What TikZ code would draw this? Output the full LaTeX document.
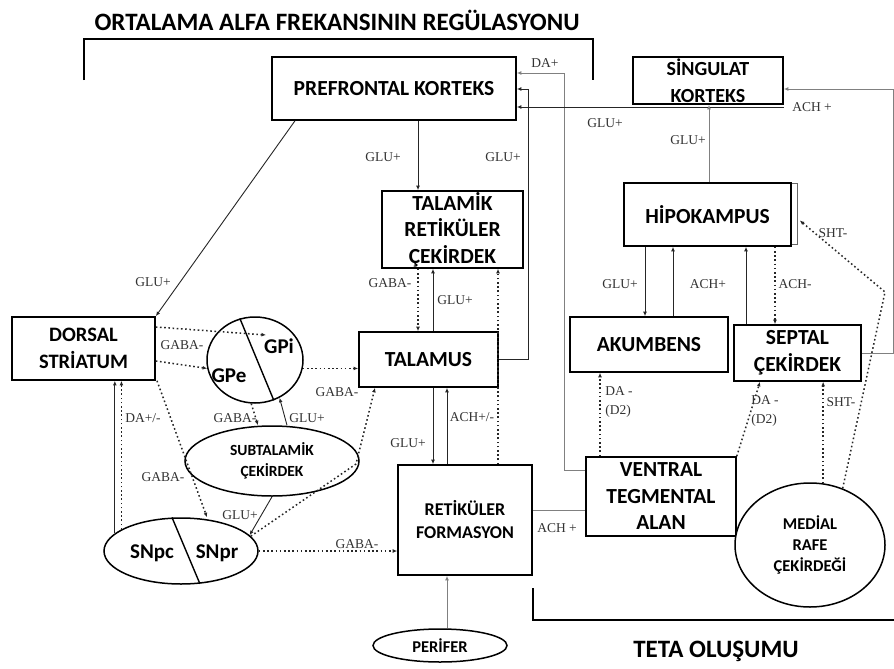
\documentclass[tikz,border=0pt]{standalone}
\usepackage{fontspec}
\setmainfont{Liberation Serif}
\newfontfamily\bxfam{Carlito}
\usetikzlibrary{arrows.meta,shapes.geometric}
\newcommand\boxfont{\bxfam\bfseries\fontsize{21.5}{26.5}\selectfont}
\newcommand\ovalfont{\bxfam\bfseries\fontsize{15.5}{21}\selectfont}
\newcommand\smallbox{\bxfam\bfseries\fontsize{16.5}{21}\selectfont}
\newcommand\partfont{\bxfam\bfseries\fontsize{21}{22}\selectfont}
\newcommand\labfont{\fontsize{13.5}{18.5}\selectfont}
\tikzset{
  box/.style={draw=black, line width=1.6pt, fill=white, font=\boxfont, align=center, inner sep=0pt},
  oval/.style={ellipse, draw=black, line width=1.5pt, fill=white, inner sep=0pt, align=center},
  sol/.style={draw=black!85, line width=0.9pt},
  gsol/.style={draw=black!50, line width=0.9pt},
  dotline/.style={draw=black!85, line width=1.5pt, dash pattern=on 1.6pt off 2.6pt},
  arr/.style={-{Latex[length=4.5pt,width=3.8pt]}},
  lab/.style={font=\labfont, text=black!80, inner sep=0pt, align=left},
  brk/.style={draw=black, line width=1.6pt},
  head/.style={font=\bxfam\bfseries\fontsize{25}{28}\selectfont, inner sep=0pt},
}
\begin{document}
\begin{tikzpicture}[x=1pt, y=-1pt]
\useasboundingbox (0,0) rectangle (894,669);
\fill[white] (0,0) rectangle (894,669);

% headings and brackets
\node[head] (alfa) at (337,20) {ORTALAMA ALFA FREKANSININ REGÜLASYONU};
\draw[brk] (84,80) -- (84,39) -- (593,39) -- (593,80);
\node[head] (teta) at (716,651) {TETA OLUŞUMU};
\draw[brk] (533,588) -- (533,620) -- (894,620);

% boxes
\node[box, minimum width=244, minimum height=63] (pfc) at (394,88.5) {PREFRONTAL KORTEKS};
\node[box, minimum width=150, minimum height=47, font=\bxfam\bfseries\fontsize{20}{27}\selectfont] (sing) at (708,80.5) {SİNGULAT\\KORTEKS};
\node[box, minimum width=141, minimum height=77] (trn) at (452.5,229.5) {TALAMİK\\RETİKÜLER\\ÇEKİRDEK};
\node[box, minimum width=139, minimum height=55] (tal) at (428.5,359.5) {TALAMUS};
\node[box, minimum width=134, minimum height=110, font=\bxfam\bfseries\fontsize{18}{23}\selectfont] (rf) at (465,520) {RETİKÜLER\\FORMASYON};
\node[box, minimum width=143, minimum height=63, font=\bxfam\bfseries\fontsize{20.5}{27}\selectfont] (ds) at (83.5,348.5) {DORSAL\\STRİATUM};
\node[box, minimum width=150, minimum height=79] (vta) at (661,496.5) {VENTRAL\\TEGMENTAL\\ALAN};
\node[box, minimum width=167, minimum height=63] (hip) at (707.5,214.5) {HİPOKAMPUS};
\node[box, minimum width=158, minimum height=55] (ak) at (649,344.5) {AKUMBENS};
\node[box, minimum width=127, minimum height=56] (sep) at (797.5,353) {SEPTAL\\ÇEKİRDEK};
\draw[black!60, line width=1pt] ([yshift=-1pt]hip.north east) -| ([xshift=6pt,yshift=2pt]hip.south east) -- ([yshift=2pt]hip.south east);

% ovals
\node[oval, minimum width=96, minimum height=86] (gp) at (255,360) {};
\draw[black, line width=1.4pt] (gp.110) -- (gp.-65);
\node[font=\partfont, inner sep=0pt] (gpe) at (229,376) {GPe};
\node[font=\partfont, inner sep=0pt] (gpi) at (279,346) {GPi};
\node[oval, minimum width=174, minimum height=70, font=\ovalfont] (stn) at (272,461) {SUBTALAMİK\\ÇEKİRDEK};
\node[oval, minimum width=154, minimum height=66] (sn) at (181,551) {};
\draw[black, line width=1.4pt] (sn.105) -- (sn.-60);
\node[font=\partfont, inner sep=0pt] (snpc) at (152,553) {SNpc};
\node[font=\partfont, inner sep=0pt] (snpr) at (217,553) {SNpr};
\node[oval, minimum width=134, minimum height=33, font=\smallbox] (per) at (440,645.5) {PERİFER};
\node[oval, minimum width=150, minimum height=124, font=\smallbox] (mrc) at (810,545) {MEDİAL\\RAFE\\ÇEKİRDEĞİ};

% bend points
\coordinate (b1) at (528,89);
\coordinate (b2) at (564,73);
\coordinate (b3) at (893,89);
\coordinate (b4) at (356,464);
\coordinate (b5) at (885,292);
\coordinate (gpin) at (266,335);

% prefrontal cortex links
\draw[sol,arr] (418,0 |- pfc.south) -- (418,0 |- trn.north);
\node[lab] (l1) at (383,157) {GLU+};
\draw[sol,arr] (295,0 |- pfc.south) -- (ds.north east);
\node[lab] (l2) at (153,282) {GLU+};
\draw[sol,arr] (tal.east) -| (b1) -- (pfc.east |- b1);
\node[lab] (l3) at (503,157) {GLU+};
\draw[gsol,arr] (vta.west |- 0,470) -| (b2) -- (pfc.east |- b2);
\node[lab] (l4) at (545,63) {DA+};
\draw[sol,arr] (sing.east |- 0,107) -- (pfc.east |- 0,107);
\node[lab] (l5) at (605,123) {GLU+};

% cingulate cortex links
\draw[gsol,arr] (709,0 |- hip.north) -- (709,0 |- sing.south);
\node[lab] (l6) at (688,140) {GLU+};
\draw[gsol,arr] (sep.east) -| (b3) -- (sing.east |- b3);
\node[lab] (l7) at (812,107) {ACH +};

% thalamic loops
\draw[dotline,arr] (418,0 |- trn.south) -- (418,0 |- tal.north);
\node[lab] (l8) at (390,283) {GABA-};
\draw[sol,arr] (433,0 |- tal.north) -- (433,0 |- trn.south);
\node[lab] (l9) at (455,300) {GLU+};
\draw[dotline,arr] (498,0 |- rf.north) -- (498,0 |- trn.south);
\node[lab] (l10) at (472,417) {ACH+/-};
\draw[sol,arr] (433,0 |- tal.south) -- (433,0 |- rf.north);
\node[lab] (l11) at (408,443) {GLU+};
\draw[sol,arr] (447,0 |- rf.north) -- (447,0 |- tal.south);

% basal ganglia
\draw[dotline,arr] (ds.east |- 0,327) -- (gpin);
\node[lab] (l12) at (182,345) {GABA-};
\draw[dotline,arr] (ds.east |- 0,361) -- (gp.190);
\draw[dotline,arr] (gp.-10) -- (tal.west |- gp.-10);
\draw[dotline,arr] (gp.265) -- (258,0 |- stn.north);
\node[lab] (l13) at (235,418) {GABA-};
\draw[sol,arr] (287,0 |- stn.north) -- (gp.-57);
\node[lab] (l14) at (307,418) {GLU+};
\draw[dotline,arr] (sn.12) -- (b4) -- (375,0 |- tal.south);
\node[lab] (l15) at (337,392) {GABA-};
\draw[dotline,arr] (157,0 |- ds.south) -- (207,0 |- sn.north);
\node[lab] (l16) at (163,477) {GABA-};
\draw[sol,arr] (sn.165) -- (sn.165 |- ds.south);
\draw[dotline,arr] (sn.160) -- (sn.160 |- ds.south);
\node[lab] (l17) at (143,418) {DA+/-};
\draw[sol,arr] (stn.south) -- (sn.13);
\node[lab] (l18) at (240,515) {GLU+};
\draw[dotline,arr] (sn.east) -- (rf.west |- sn.east);
\node[lab] (l19) at (357,544) {GABA-};

% reticular formation
\draw[gsol] (rf.east |- 0,510) -- (vta.west |- 0,510);
\node[lab] (l20) at (557,528) {ACH +};
\draw[gsol,arr] (447,0 |- per.north) -- (447,0 |- rf.south);

% limbic links
\draw[sol,arr] (645,0 |- hip.south) -- (645,0 |- ak.north);
\node[lab] (l21) at (620,284) {GLU+};
\draw[sol,arr] (673,0 |- ak.north) -- (673,0 |- hip.south);
\draw[sol,arr] (746,0 |- sep.north) -- (746,0 |- hip.south);
\node[lab] (l22) at (708,284) {ACH+};
\draw[dotline,arr] (775,0 |- hip.south) -- (775,0 |- sep.north);
\node[lab] (l23) at (795,284) {ACH-};
\draw[dotline,arr] (600,0 |- vta.north) -- (600,0 |- ak.south);
\node[lab] (l24) at (619,402) {DA -\\(D2)};
\draw[dotline,arr] (vta.north east) -- (760,0 |- sep.south);
\node[lab] (l25) at (765,411) {DA -\\(D2)};
\draw[dotline,arr] (mrc.78) -- (mrc.78 |- sep.south);
\node[lab] (l26) at (841,402) {SHT-};
\draw[dotline,arr] (mrc.60) -- (b5) -- ([xshift=8pt,yshift=-6pt]hip.east);
\node[lab] (l27) at (833,233) {SHT-};
\end{tikzpicture}
\end{document}
